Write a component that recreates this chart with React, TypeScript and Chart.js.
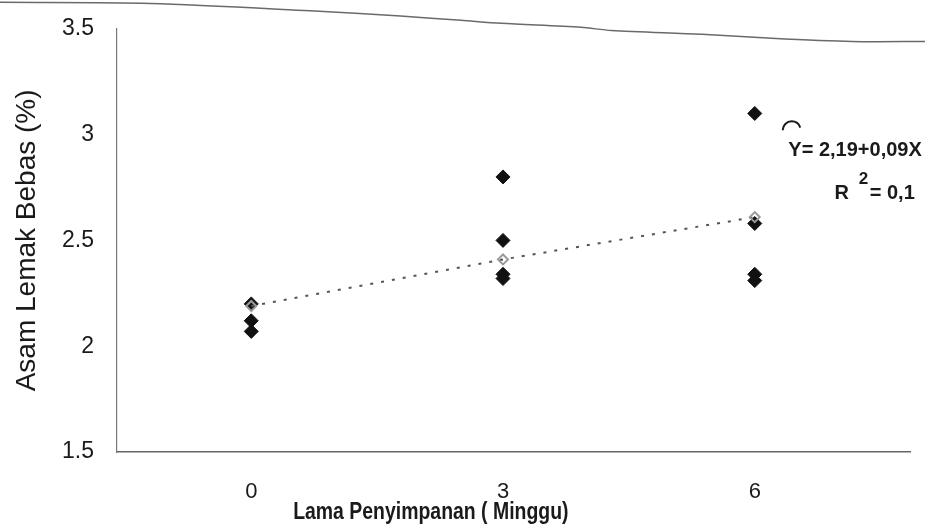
import React, { useEffect, useRef } from "react";
import { Chart, registerables } from "chart.js";

Chart.register(...registerables);

// Storage time (weeks) and free fatty acid (%) observations
const obsX: number[] = [0, 0, 0, 3, 3, 3, 3, 6, 6, 6, 6];
const obsY: number[] = [2.2, 2.12, 2.07, 2.8, 2.5, 2.34, 2.32, 3.1, 2.58, 2.34, 2.31];

// Regression line values drawn in the figure
const regX: number[] = [0, 3, 6];
const regY: number[] = [2.19, 2.41, 2.61];

// Tick labels
const xTickValues: number[] = [0, 3, 6];
const yTickValues: number[] = [1.5, 2, 2.5, 3, 3.5];

// Scanned page edge across the top
const edgeX: number[] = [-3.0, -1.2, 0.7, 1.78, 2.5, 2.98, 3.93, 4.29, 5.37, 6.2, 7.16, 8.05];
const edgeY: number[] = [3.625, 3.62, 3.585, 3.56, 3.54, 3.526, 3.507, 3.492, 3.474, 3.455, 3.44, 3.44];

const xTitle = "Lama Penyimpanan ( Minggu)";
const yTitle = "Asam Lemak Bebas (%)";
const eqText = "Y= 2,19+0,09X";
const r2Label = "R";
const r2Sup = "2";
const r2Value = "= 0,1";

const SANS = "'Liberation Sans', Arial, sans-serif";

const annotationPlugin = {
  id: "annot",
  afterDraw(chart: any) {
    const { ctx, scales } = chart;
    const xs = scales.x;
    const ys = scales.y;
    ctx.save();
    ctx.fillStyle = "#1a1a1a";
    ctx.textBaseline = "alphabetic";
    ctx.textAlign = "left";
    ctx.font = `bold 20px ${SANS}`;
    ctx.fillText(eqText, xs.getPixelForValue(6.4), ys.getPixelForValue(2.898));
    ctx.fillText(r2Label, xs.getPixelForValue(6.95), ys.getPixelForValue(2.694));
    ctx.fillText(r2Value, xs.getPixelForValue(7.37), ys.getPixelForValue(2.694));
    ctx.font = `bold 17px ${SANS}`;
    ctx.fillText(r2Sup, xs.getPixelForValue(7.24), ys.getPixelForValue(2.765));
    // hat over Y
    ctx.strokeStyle = "#1a1a1a";
    ctx.lineWidth = 2;
    ctx.beginPath();
    const hx = xs.getPixelForValue(6.44);
    const hy = ys.getPixelForValue(3.02);
    ctx.arc(hx, hy, 9, Math.PI * 1.0, Math.PI * 1.9);
    ctx.stroke();
    // x-axis title (condensed bold)
    ctx.font = `bold 24px ${SANS}`;
    ctx.textAlign = "center";
    ctx.textBaseline = "middle";
    ctx.translate(xs.getPixelForValue(2.14), chart.height - 14);
    ctx.scale(0.81, 1);
    ctx.fillText(xTitle, 0, 0);
    ctx.restore();
  },
};

export default function App() {
  const ref = useRef<HTMLCanvasElement | null>(null);

  useEffect(() => {
    if (!ref.current) return;
    const chart = new Chart(ref.current, {
      type: "scatter",
      data: {
        datasets: [
          {
            label: "edge",
            type: "line",
            data: edgeX.map((x, i) => ({ x, y: edgeY[i] })),
            borderColor: "#6a6a6a",
            borderWidth: 1.5,
            pointRadius: 0,
            fill: false,
            clip: false as any,
            tension: 0.3,
          },
          {
            label: "regresi",
            type: "line",
            data: regX.map((x, i) => ({ x, y: regY[i] })),
            borderColor: "#555",
            borderWidth: 2,
            borderDash: [3, 8],
            pointStyle: "rectRot",
            pointRadius: 5,
            pointBorderColor: "#9a9a9a",
            pointBackgroundColor: "rgba(0,0,0,0)",
            pointBorderWidth: 2,
            fill: false,
          },
          {
            label: "data",
            data: obsX.map((x, i) => ({ x, y: obsY[i] })),
            pointStyle: "rectRot",
            pointRadius: 7,
            backgroundColor: "#111",
            borderColor: "#111",
          },
        ],
      },
      options: {
        animation: false,
        responsive: false,
        layout: { padding: { top: 25, right: 15, left: 0, bottom: 0 } },
        plugins: { legend: { display: false }, tooltip: { enabled: false } },
        scales: {
          x: {
            type: "linear",
            min: -1.6,
            max: 7.85,
            grid: { display: false },
            border: { display: true, color: "#666", width: 1.5 },
            afterBuildTicks: (s: any) => {
              s.ticks = xTickValues.map((v) => ({ value: v }));
            },
            afterFit: (s: any) => {
              s.height = 74;
            },
            ticks: {
              padding: 19,
              color: "#1a1a1a",
              font: { family: SANS, size: 22 },
              callback: (v: any) => String(v),
            },
          },
          y: {
            type: "linear",
            min: 1.5,
            max: 3.5,
            grid: { display: false },
            border: { display: true, color: "#777", width: 1.2 },
            afterBuildTicks: (s: any) => {
              s.ticks = yTickValues.map((v) => ({ value: v }));
            },
            afterFit: (s: any) => {
              s.width = 117;
            },
            ticks: {
              padding: 15,
              color: "#1a1a1a",
              font: { family: SANS, size: 23 },
              callback: (v: any) => String(v),
            },
            title: {
              display: true,
              text: yTitle,
              color: "#1a1a1a",
              font: { family: SANS, size: 28 },
              padding: { top: 10, bottom: 0 },
            },
          },
        },
      },
      plugins: [annotationPlugin],
    });
    return () => chart.destroy();
  }, []);

  return (
    <div style={{ position: "fixed", left: 0, top: 0, width: 925, height: 526, background: "#fff" }}>
      <canvas ref={ref} width={925} height={526} />
    </div>
  );
}
